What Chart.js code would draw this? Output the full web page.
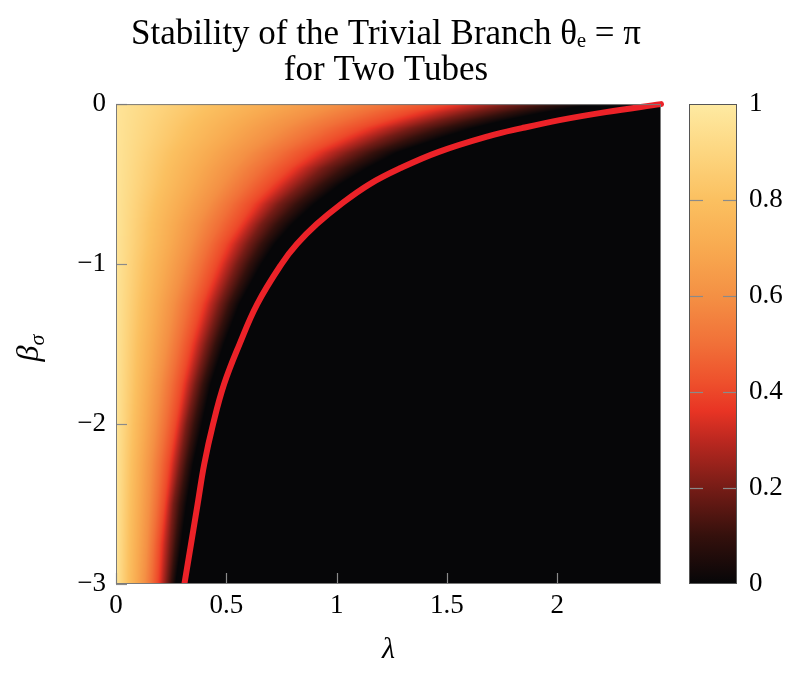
<!DOCTYPE html>
<html><head><meta charset="utf-8">
<script src="https://cdn.jsdelivr.net/npm/chart.js@4.4.1/dist/chart.umd.min.js"></script>
<style>
html,body{margin:0;padding:0;background:#fff;}
#wrap{position:relative;width:800px;height:674px;background:#fff;}
#main{position:absolute;left:0;top:0;}
#cbar{position:absolute;left:680px;top:0;}
</style></head><body>
<div id="wrap"><canvas id="main" width="800" height="674"></canvas><canvas id="cbar" width="120" height="674"></canvas></div>
<script>
// ---- data ----
const rowBeta      = [-3, -2.75, -2.5, -2.25, -2, -1.75, -1.5, -1.25, -1, -0.875, -0.75, -0.625, -0.5, -0.4, -0.3, -0.2, -0.15, -0.1, -0.05, 0];
// red stability boundary (lambda at each beta)
const curveLambda  = [0.31, 0.34, 0.37, 0.40, 0.44, 0.49, 0.56, 0.64, 0.75, 0.82, 0.91, 1.02, 1.15, 1.29, 1.46, 1.69, 1.84, 2.01, 2.22, 2.47];
// heat map: lambda where the shaded value reaches each level, per beta row
const levelValues  = [0.97, 0.8, 0.6, 0.4, 0.2, 0];
const lambdaAt080  = [0.056, 0.06, 0.065, 0.07, 0.08, 0.09, 0.10, 0.115, 0.135, 0.15, 0.16, 0.18, 0.21, 0.23, 0.26, 0.31, 0.33, 0.36, 0.40, 0.44];
const lambdaAt060  = [0.13, 0.14, 0.15, 0.16, 0.18, 0.20, 0.23, 0.26, 0.31, 0.34, 0.37, 0.42, 0.48, 0.53, 0.60, 0.70, 0.75, 0.82, 0.91, 1.01];
const lambdaAt040  = [0.19, 0.20, 0.22, 0.24, 0.27, 0.30, 0.34, 0.39, 0.46, 0.50, 0.56, 0.62, 0.71, 0.79, 0.89, 1.04, 1.12, 1.23, 1.35, 1.51];
const lambdaAt020  = [0.23, 0.245, 0.26, 0.29, 0.32, 0.36, 0.41, 0.47, 0.55, 0.60, 0.66, 0.74, 0.85, 0.94, 1.07, 1.24, 1.34, 1.47, 1.62, 1.80];
const lambdaAt000  = [0.27, 0.295, 0.32, 0.35, 0.39, 0.43, 0.49, 0.56, 0.66, 0.72, 0.80, 0.90, 1.02, 1.14, 1.28, 1.50, 1.62, 1.77, 1.95, 2.17];
// ticks
const xTickValues  = [0, 0.5, 1, 1.5, 2];
const xTickLabels  = ['0', '0.5', '1', '1.5', '2'];
const yTickValues  = [-3, -2, -1, 0];
const yTickLabels  = ['\u22123', '\u22122', '\u22121', '0'];
const cbTickValues = [0, 0.2, 0.4, 0.6, 0.8, 1];
const cbTickLabels = ['0', '0.2', '0.4', '0.6', '0.8', '1'];
const xMin = 0, xMax = 2.47, yMin = -3, yMax = 0;

// ---- colour map (style) ----
const cmapStops  = [0, 0.1, 0.2, 0.3, 0.36, 0.42, 0.5, 0.6, 0.7, 0.8, 0.9, 1];
const cmapColors = [[6,6,8],[52,16,12],[118,28,22],[188,40,32],[232,52,36],[238,80,44],[241,112,56],[244,144,68],[248,170,80],[251,192,96],[253,214,128],[254,234,162]];
function cmap(v){
  if (v <= cmapStops[0]) return cmapColors[0];
  for (let i = 0; i < cmapStops.length - 1; i++){
    if (v <= cmapStops[i+1]){
      const u = (v - cmapStops[i]) / (cmapStops[i+1] - cmapStops[i]);
      const a = cmapColors[i], b = cmapColors[i+1];
      return [a[0]+(b[0]-a[0])*u, a[1]+(b[1]-a[1])*u, a[2]+(b[2]-a[2])*u];
    }
  }
  return cmapColors[cmapColors.length-1];
}
const SERIF = "'Liberation Serif', 'Times New Roman', 'DejaVu Serif', serif";
Chart.defaults.color = '#000';
Chart.defaults.font.family = SERIF;

const heatPlugin = {
  id: 'heat',
  beforeDatasetsDraw(chart){
    const {ctx, chartArea:{left, top, right, bottom}, scales:{x, y}} = chart;
    const w = Math.round(right - left), h = Math.round(bottom - top);
    const off = document.createElement('canvas'); off.width = w; off.height = h;
    const octx = off.getContext('2d');
    const img = octx.createImageData(w, h);
    const contours = [lambdaAt080, lambdaAt060, lambdaAt040, lambdaAt020, lambdaAt000];
    for (let j = 0; j < h; j++){
      const b = y.getValueForPixel(top + j + 0.5);
      let i = 0;
      while (i < rowBeta.length - 2 && b > rowBeta[i+1]) i++;
      let t = (b - rowBeta[i]) / (rowBeta[i+1] - rowBeta[i]);
      t = Math.max(0, Math.min(1, t));
      const lams = [0].concat(contours.map(c => c[i] + (c[i+1] - c[i]) * t));
      for (let k = 0; k < w; k++){
        const l = x.getValueForPixel(left + k + 0.5);
        let v;
        if (l <= 0) v = levelValues[0];
        else if (l >= lams[lams.length-1]) v = 0;
        else {
          let s = 0;
          while (l > lams[s+1]) s++;
          const u = (l - lams[s]) / (lams[s+1] - lams[s]);
          v = levelValues[s] + (levelValues[s+1] - levelValues[s]) * u;
        }
        const c = cmap(v);
        const p = (j * w + k) * 4;
        img.data[p] = c[0]; img.data[p+1] = c[1]; img.data[p+2] = c[2]; img.data[p+3] = 255;
      }
    }
    octx.putImageData(img, 0, 0);
    ctx.drawImage(off, left, top);
  },
  afterDraw(chart){
    const {ctx, chartArea:{left, top, right, bottom}, scales:{x, y}} = chart;
    ctx.save();
    ctx.strokeStyle = '#8a8a8a'; ctx.lineWidth = 1.2;
    // inward ticks
    xTickValues.forEach(v => { const px = Math.round(x.getPixelForValue(v)) + 0.5; ctx.beginPath(); ctx.moveTo(px, bottom); ctx.lineTo(px, bottom - 11); ctx.stroke(); });
    yTickValues.forEach(v => { const py = Math.round(y.getPixelForValue(v)) + 0.5; ctx.beginPath(); ctx.moveTo(left, py); ctx.lineTo(left + 11, py); ctx.stroke(); });
    // frame
    ctx.strokeStyle = '#7a7a7a'; ctx.lineWidth = 1;
    ctx.strokeRect(left + 0.5, top + 0.5, right - left - 1, bottom - top - 1);
    // y axis title beta_sigma
    ctx.translate(30, (top + bottom) / 2 + 4);
    ctx.rotate(-Math.PI / 2);
    ctx.fillStyle = '#000';
    ctx.textBaseline = 'alphabetic';
    ctx.font = 'italic 32px ' + SERIF;
    const bw = ctx.measureText('\u03B2').width;
    ctx.font = 'italic 22px ' + SERIF;
    const sw = ctx.measureText('\u03C3').width;
    const x0 = -(bw + sw) / 2;
    ctx.font = 'italic 32px ' + SERIF;
    ctx.fillText('\u03B2', x0, 8);
    ctx.font = 'italic 22px ' + SERIF;
    ctx.fillText('\u03C3', x0 + bw, 14);
    ctx.restore();
  }
};

new Chart(document.getElementById('main'), {
  type: 'scatter',
  data: {
    datasets: [{
      label: 'stability boundary',
      data: curveLambda.map((l, i) => ({x: l, y: rowBeta[i]})),
      showLine: true,
      borderColor: '#ec2228',
      borderWidth: 6,
      pointRadius: 0,
      tension: 0.4,
      borderCapStyle: 'round',
      clip: {left: 0, top: 6, right: 6, bottom: 0}
    }]
  },
  options: {
    responsive: false, animation: false, devicePixelRatio: 1,
    layout: {padding: {left: 0, right: 28, top: 0, bottom: 0}},
    plugins: {
      legend: {display: false}, tooltip: {enabled: false},
      title: {
        display: true,
        text: ['Stability of the Trivial Branch \u03B8\u2091 = \u03C0', 'for Two Tubes'],
        color: '#000',
        font: {family: SERIF, size: 35, weight: 'normal', lineHeight: 1.03},
        padding: {top: 17, bottom: 15}
      }
    },
    scales: {
      x: {
        type: 'linear', min: xMin, max: xMax,
        afterBuildTicks: s => { s.ticks = xTickValues.map(v => ({value: v})); },
        afterFit: s => { s.height = 90; },
        ticks: {font: {family: SERIF, size: 27}, color: '#000', padding: 6, maxRotation: 0,
                callback: (v) => { const i = xTickValues.indexOf(v); return i >= 0 ? xTickLabels[i] : ''; }},
        grid: {display: false, drawTicks: false},
        border: {display: false},
        title: {display: true, text: '\u03BB', color: '#000', font: {family: SERIF, size: 30, style: 'italic', lineHeight: 1.2}, padding: {top: 0, bottom: 6}}
      },
      y: {
        type: 'linear', min: yMin, max: yMax,
        afterBuildTicks: s => { s.ticks = yTickValues.map(v => ({value: v})); },
        afterFit: s => { s.width = 116; },
        ticks: {font: {family: SERIF, size: 27}, color: '#000', padding: 10,
                callback: (v) => { const i = yTickValues.indexOf(v); return i >= 0 ? yTickLabels[i] : ''; }},
        grid: {display: false, drawTicks: false},
        border: {display: false}
      },
      space: {
        type: 'linear', position: 'right', display: true, min: 0, max: 1,
        afterFit: s => { s.width = 111; },
        ticks: {display: false}, grid: {display: false, drawTicks: false}, border: {display: false}
      }
    }
  },
  plugins: [heatPlugin]
});

const cbPlugin = {
  id: 'cbdecor',
  afterDraw(chart){
    const {ctx, chartArea:{left, top, right, bottom}, scales:{y}} = chart;
    ctx.save();
    ctx.strokeStyle = '#8a8a8a'; ctx.lineWidth = 1.2;
    cbTickValues.slice(1, -1).forEach(v => {
      const py = Math.round(y.getPixelForValue(v)) + 0.5;
      ctx.beginPath(); ctx.moveTo(left, py); ctx.lineTo(left + 14, py); ctx.stroke();
      ctx.beginPath(); ctx.moveTo(right - 14, py); ctx.lineTo(right, py); ctx.stroke();
    });
    ctx.strokeStyle = '#555'; ctx.lineWidth = 1;
    ctx.strokeRect(left + 0.5, top + 0.5, right - left - 1, bottom - top - 1);
    ctx.restore();
  }
};

new Chart(document.getElementById('cbar'), {
  type: 'bar',
  data: {
    labels: ['value'],
    datasets: [{
      data: [[0, 1]],
      barPercentage: 1, categoryPercentage: 1, borderWidth: 0,
      backgroundColor: (c) => {
        const ca = c.chart.chartArea;
        if (!ca) return '#000';
        const g = c.chart.ctx.createLinearGradient(0, ca.bottom, 0, ca.top);
        cmapStops.forEach((s, i) => { const col = cmapColors[i]; g.addColorStop(s, 'rgb(' + col.join(',') + ')'); });
        return g;
      }
    }]
  },
  options: {
    responsive: false, animation: false, devicePixelRatio: 1,
    layout: {padding: {left: 9, right: 0, top: 104, bottom: 90}},
    plugins: {legend: {display: false}, tooltip: {enabled: false}},
    scales: {
      x: {display: false},
      y: {
        position: 'right', min: 0, max: 1,
        afterBuildTicks: s => { s.ticks = cbTickValues.map(v => ({value: v})); },
        afterFit: s => { s.width = 63; },
        ticks: {font: {family: SERIF, size: 27}, color: '#000', padding: 12,
                callback: (v) => { const i = cbTickValues.findIndex(t => Math.abs(t - v) < 1e-9); return i >= 0 ? cbTickLabels[i] : ''; }},
        grid: {display: false, drawTicks: false},
        border: {display: false}
      }
    }
  },
  plugins: [cbPlugin]
});
</script>
</body></html>
